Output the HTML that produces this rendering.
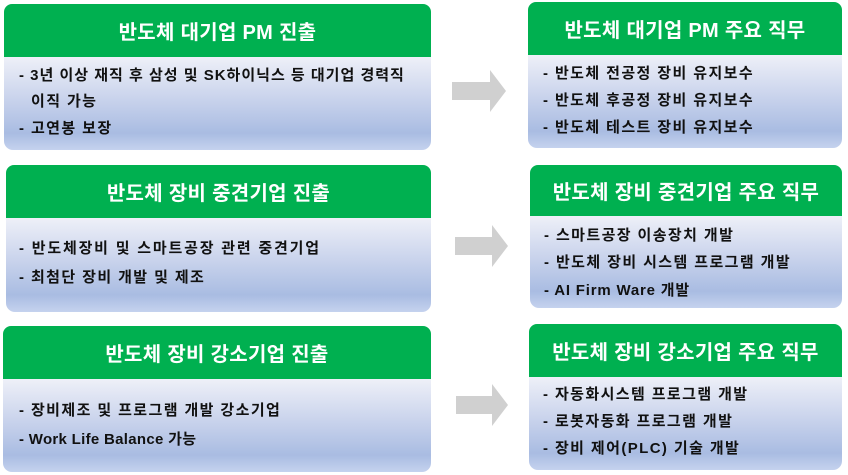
<!DOCTYPE html>
<html><head><meta charset="utf-8"><style>
body{margin:0;width:848px;height:475px;background:#fff;position:relative;overflow:hidden;font-family:"Liberation Sans","Noto Sans CJK KR","NanumGothic",sans-serif}
.h{position:absolute;background:#00b050;color:#fff;font-weight:bold;font-size:20px;letter-spacing:0.3px;display:flex;align-items:center;justify-content:center;border-radius:8px 8px 0 0}
.b{position:absolute;border-radius:0 0 9px 9px;background:linear-gradient(#eef0f8 0%,#c9d3ec 45%,#a9bce2 82%,#c5d2ee 100%)}
.t{position:absolute;font-size:15px;letter-spacing:1.4px;font-weight:bold;color:#111;white-space:nowrap;line-height:16px}
.a{position:absolute}
</style></head><body>
<div class="h" style="left:4px;top:4px;width:427px;height:53px">반도체 대기업 PM 진출</div>
<div class="b" style="left:4px;top:57px;width:427px;height:93px"></div>
<div class="t" style="left:19px;top:68px;letter-spacing:1px">- 3년 이상 재직 후 삼성 및 SK하이닉스 등 대기업 경력직</div>
<div class="t" style="left:31px;top:94px">이직 가능</div>
<div class="t" style="left:19px;top:121px">- 고연봉 보장</div>

<div class="h" style="left:528px;top:2px;width:314px;height:53px">반도체 대기업 PM 주요 직무</div>
<div class="b" style="left:528px;top:55px;width:314px;height:93px"></div>
<div class="t" style="left:543px;top:66px">- 반도체 전공정 장비 유지보수</div>
<div class="t" style="left:543px;top:93px">- 반도체 후공정 장비 유지보수</div>
<div class="t" style="left:543px;top:120px">- 반도체 테스트 장비 유지보수</div>

<div class="h" style="left:6px;top:165px;width:425px;height:53px">반도체 장비 중견기업 진출</div>
<div class="b" style="left:6px;top:218px;width:425px;height:94px"></div>
<div class="t" style="left:19px;top:241px;letter-spacing:1.8px">- 반도체장비 및 스마트공장 관련 중견기업</div>
<div class="t" style="left:19px;top:270px">- 최첨단 장비 개발 및 제조</div>

<div class="h" style="left:530px;top:165px;width:312px;height:51px">반도체 장비 중견기업 주요 직무</div>
<div class="b" style="left:530px;top:216px;width:312px;height:92px"></div>
<div class="t" style="left:544px;top:228px">- 스마트공장 이송장치 개발</div>
<div class="t" style="left:544px;top:255px">- 반도체 장비 시스템 프로그램 개발</div>
<div class="t" style="left:544px;top:283px;letter-spacing:0.8px">- AI Firm Ware 개발</div>

<div class="h" style="left:3px;top:326px;width:428px;height:53px">반도체 장비 강소기업 진출</div>
<div class="b" style="left:3px;top:379px;width:428px;height:93px"></div>
<div class="t" style="left:19px;top:403px">- 장비제조 및 프로그램 개발 강소기업</div>
<div class="t" style="left:19px;top:432px;letter-spacing:0.3px">- Work Life Balance 가능</div>

<div class="h" style="left:529px;top:324px;width:313px;height:53px">반도체 장비 강소기업 주요 직무</div>
<div class="b" style="left:529px;top:377px;width:313px;height:93px"></div>
<div class="t" style="left:543px;top:387px">- 자동화시스템 프로그램 개발</div>
<div class="t" style="left:543px;top:414px">- 로봇자동화 프로그램 개발</div>
<div class="t" style="left:543px;top:441px">- 장비 제어(PLC) 기술 개발</div>

<svg class="a" style="left:0;top:0" width="848" height="475">
<g fill="#d0d0d0">
<polygon points="452,82 490,82 490,70 506,91 490,112 490,100 452,100"/>
<polygon points="455,237 492,237 492,225 508,246 492,267 492,255 455,255"/>
<polygon points="456,396 492,396 492,384 508,405 492,426 492,414 456,414"/>
</g></svg>
</body></html>
